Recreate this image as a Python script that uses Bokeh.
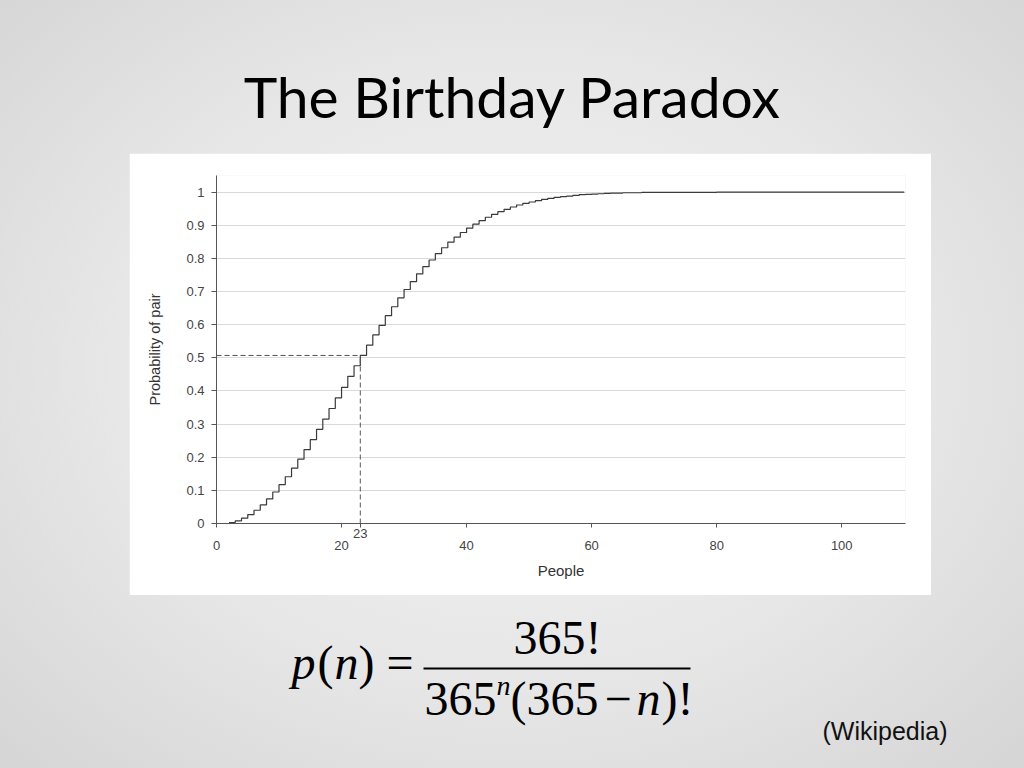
from bokeh.plotting import figure
from bokeh.layouts import column, row
from bokeh.models import Range1d, FixedTicker, CustomJSTickFormatter, Spacer
from bokeh.core.properties import value
from bokeh.embed import file_html
from bokeh.resources import INLINE

# ---------------- data ----------------
people = list(range(2, 111))
prob = [
    0.003, 0.008, 0.016, 0.027, 0.040, 0.056, 0.074, 0.095, 0.117,           # 2-10
    0.141, 0.167, 0.194, 0.223, 0.253, 0.284, 0.315, 0.347, 0.379, 0.411,    # 11-20
    0.444, 0.476, 0.507, 0.538, 0.569, 0.598, 0.627, 0.654, 0.681, 0.706,    # 21-30
    0.730, 0.753, 0.775, 0.795, 0.814, 0.832, 0.849, 0.864, 0.878, 0.891,    # 31-40
    0.903, 0.914, 0.924, 0.933, 0.941, 0.948, 0.955, 0.961, 0.966, 0.970,    # 41-50
    0.974, 0.978, 0.981, 0.984, 0.986, 0.988, 0.990, 0.992, 0.993, 0.994,    # 51-60
    0.995, 0.996, 0.997, 0.997, 0.998, 0.998, 0.998, 0.999, 0.999, 0.999,    # 61-70
    0.999, 0.999, 0.999, 0.999, 0.999, 0.999, 0.999, 0.999, 0.999, 1.000,    # 71-80
    1.000, 1.000, 1.000, 1.000, 1.000, 1.000, 1.000, 1.000, 1.000, 1.000,    # 81-90
    1.000, 1.000, 1.000, 1.000, 1.000, 1.000, 1.000, 1.000, 1.000, 1.000,    # 91-100
    1.000, 1.000, 1.000, 1.000, 1.000, 1.000, 1.000, 1.000, 1.000, 1.000,    # 101-110
]
marked_n = 23
x_ticks = [0, 20, 40, 60, 80, 100]
y_ticks = [0, 0.1, 0.2, 0.3, 0.4, 0.5, 0.6, 0.7, 0.8, 0.9, 1]
x_label = "People"
y_label = "Probability of pair"
title_text = "The Birthday Paradox"
source_text = "(Wikipedia)"

marked_p = prob[people.index(marked_n)]

SANS_NAME = "Liberation Sans"
SERIF = value("Liberation Serif")

# ---------------- title band ----------------
top = figure(width=1024, height=153, x_range=Range1d(0, 1024), y_range=Range1d(153, 0),
             x_axis_type=None, y_axis_type=None, output_backend="svg",
             toolbar_location=None, min_border=0)
top.grid.visible = False
top.outline_line_color = None
top.background_fill_alpha = 0
top.border_fill_alpha = 0
top.text(x=[512], y=[95], text=[title_text], text_font=value("Lato"),
         text_font_size="57px", text_align="center", text_baseline="alphabetic",
         text_color="#000000")

# ---------------- chart ----------------
chart = figure(width=802, height=442, x_range=Range1d(0, 110.2), y_range=Range1d(0, 1.05),
               output_backend="svg", toolbar_location=None,
               min_border_left=87, min_border_right=26, min_border_top=22, min_border_bottom=72)
chart.background_fill_color = "white"
chart.border_fill_color = "white"
chart.outline_line_color = None
chart.xgrid.visible = False
chart.ygrid.grid_line_color = "#d9d9d9"
chart.ygrid.grid_line_width = 1

chart.xaxis.ticker = FixedTicker(ticks=sorted(x_ticks + [marked_n]))
chart.xaxis.formatter = CustomJSTickFormatter(
    args=dict(m=marked_n),
    code="return (tick == m) ? String(tick) : '\\u00a0\\n' + String(tick);")
chart.yaxis.ticker = FixedTicker(ticks=y_ticks)
chart.yaxis.formatter = CustomJSTickFormatter(code="return String(Math.round(tick*10)/10);")
for ax in (chart.xaxis, chart.yaxis):
    ax.axis_line_color = "#555555"
    ax.major_tick_line_color = "#555555"
    ax.minor_tick_line_color = None
    ax.major_tick_in = 0
    ax.major_label_text_font = SANS_NAME
    ax.major_label_text_font_size = "13px"
    ax.major_label_text_color = "#444444"
    ax.axis_label_text_font = SANS_NAME
    ax.axis_label_text_font_style = "normal"
    ax.axis_label_text_color = "#333333"
chart.xaxis.major_tick_out = 4
chart.xaxis.major_label_standoff = -2
chart.xaxis.major_label_text_line_height = 0.8
chart.xaxis.axis_label = x_label
chart.xaxis.axis_label_text_font_size = "15px"
chart.xaxis.axis_label_standoff = 6
chart.yaxis.major_tick_out = 5
chart.yaxis.major_label_standoff = 7
chart.yaxis.axis_label = y_label
chart.yaxis.axis_label_text_font_size = "14.5px"
chart.yaxis.axis_label_standoff = 20

chart.step(people, prob, mode="after", line_color="#3a3a3a", line_width=1.2)
chart.segment(x0=[0, marked_n], y0=[marked_p, 0], x1=[marked_n, marked_n], y1=[marked_p, marked_p],
              line_color="#555555", line_width=1, line_dash="5 3")

mid = row(Spacer(width=129, height=442), chart, Spacer(width=93, height=442), spacing=0)

# ---------------- formula band ----------------
bot = figure(width=1024, height=173, x_range=Range1d(0, 1024), y_range=Range1d(768, 595),
             x_axis_type=None, y_axis_type=None, output_backend="svg",
             toolbar_location=None, min_border=0)
bot.grid.visible = False
bot.outline_line_color = None
bot.background_fill_alpha = 0
bot.border_fill_alpha = 0

FS = "48px"
def t(x, y, s, italic=False, size=FS, align="left"):
    bot.text(x=[x], y=[y], text=[s], text_font=SERIF, text_font_size=size,
             text_font_style="italic" if italic else "normal", text_align=align,
             text_baseline="alphabetic", text_color="#000000")

# left side p(n) =
t(291, 662, "p", italic=True)
t(317, 662, "(")
t(334, 662, "n", italic=True)
t(358, 662, ")")
t(386, 662, "=")
# fraction bar
bot.segment(x0=[423], y0=[668], x1=[690], y1=[668], line_color="#000000", line_width=2.2)
# numerator
t(557, 637, "365!", align="center")
# denominator
t(424, 698, "365")
t(496, 685, "n", italic=True, size="28px")
t(510, 698, "(365")
t(604, 698, "\u2212")
t(636, 698, "n", italic=True)
t(661, 698, ")!")

bot.text(x=[822], y=[730], text=[source_text], text_font=value(SANS_NAME), text_font_size="25px",
         text_align="left", text_baseline="alphabetic", text_color="#111111")

layout = column(top, mid, bot, spacing=0)

html = file_html(layout, INLINE, title="The Birthday Paradox")
css = ("<style>html{height:100%;background:radial-gradient(ellipse at 50% 48%, #f3f3f3 0%, "
       "#e7e7e7 55%, #d5d5d5 100%) no-repeat;background-size:100% 100%;}"
       "body{margin:0;padding:0;background:transparent;overflow:hidden;}</style></head>")
html = html.replace("</head>", css, 1)
open("out.html", "w").write(html)
